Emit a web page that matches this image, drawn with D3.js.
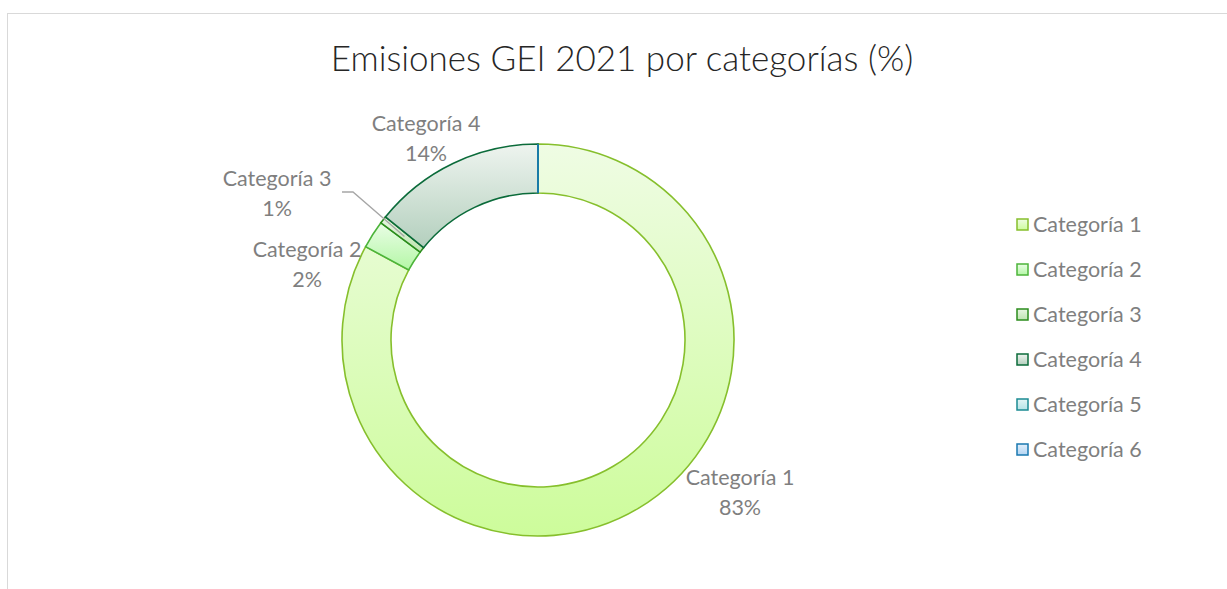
<!DOCTYPE html>
<html>
<head>
<meta charset="utf-8">
<script src="https://cdn.jsdelivr.net/npm/d3@7"></script>
<style>
  body { margin: 0; background: #fff; }
  text { font-family: Lato, "Open Sans", sans-serif; }
</style>
</head>
<body>
<script>
// data
var categories = ["Categoría 1", "Categoría 2", "Categoría 3", "Categoría 4", "Categoría 5", "Categoría 6"]
var values = [82.9, 2.3, 0.6, 14.2, 0, 0]
var pctLabels = ["83%", "2%", "1%", "14%", "", ""]

// colours: [top of gradient, bottom of gradient, outline]
var colors = [
  ["#effce4", "#cdfc9b", "#86bf2c"],
  ["#eafde6", "#b4f7a6", "#4cb43a"],
  ["#e8f6e2", "#bde4b0", "#2b8c1c"],
  ["#eef4ef", "#b3cfbd", "#0b6b3a"],
  ["#e4f5f6", "#b4e3e6", "#1b8a92"],
  ["#e2effb", "#b3d5f3", "#1a78b0"]
]

// where the outside labels sit, relative to the donut centre
var labelPos = [[202, 145], [-231, -83], [-261, -154], [-112, -209]]

var screen = {width: 1227, height: 589}
var center = {x: 538, y: 340}
var outerR = 196, innerR = 147

var svg = d3.select("body")
  .append("svg")
  .attr("width", screen.width)
  .attr("height", screen.height)

// chart frame
svg.append("rect")
  .attr("x", 7.5).attr("y", 13.5)
  .attr("width", 1240).attr("height", 600)
  .attr("fill", "#fff")
  .attr("stroke", "#d9d9d9")

svg.append("text")
  .attr("x", 622).attr("y", 71)
  .attr("text-anchor", "middle")
  .style("font-size", "35px")
  .style("font-weight", 300)
  .attr("fill", "#262626")
  .text("Emisiones GEI 2021 por categorías (%)")

var defs = svg.append("defs")
colors.forEach(function(c, i) {
  var g = defs.append("linearGradient")
    .attr("id", "grad" + i)
    .attr("x1", 0).attr("y1", 0).attr("x2", 0).attr("y2", 1)
  g.append("stop").attr("offset", "0%").attr("stop-color", c[0])
  g.append("stop").attr("offset", "100%").attr("stop-color", c[1])
})

var pie = d3.pie().sort(null).value(function(d) { return d })
var arc = d3.arc().innerRadius(innerR).outerRadius(outerR)
var arcs = pie(values)

var chart = svg.append("g")
  .attr("transform", "translate(" + center.x + "," + center.y + ")")

chart.selectAll("path")
  .data(arcs)
  .enter()
  .append("path")
  .attr("d", arc)
  .attr("fill", function(d, i) { return "url(#grad" + i + ")" })
  .attr("stroke", function(d, i) { return colors[i][2] })
  .attr("stroke-width", 1.6)
  .attr("stroke-linejoin", "miter")

// leader line for the small slice
var small = arcs[2]
var mid = (small.startAngle + small.endAngle) / 2
var rIn = innerR + 22
var lp = labelPos[2]
chart.append("polyline")
  .attr("points", [
      [lp[0] + 65, lp[1] + 6],
      [lp[0] + 76, lp[1] + 6],
      [Math.sin(mid) * rIn, -Math.cos(mid) * rIn]
    ].map(function(p) { return p.join(",") }).join(" "))
  .attr("fill", "none")
  .attr("stroke", "#a6a6a6")
  .attr("stroke-width", 1.3)

var labels = chart.selectAll(".lab")
  .data(arcs.filter(function(d) { return d.value > 0 }))
  .enter()
  .append("text")
  .attr("class", "lab")
  .attr("text-anchor", "middle")
  .attr("fill", "#7f7f7f")
  .style("font-size", "21.5px")
  .attr("transform", function(d) {
    var p = labelPos[d.index]
    return "translate(" + p[0] + "," + p[1] + ")"
  })
labels.append("tspan").attr("x", 0).attr("dy", 0)
  .text(function(d) { return categories[d.index] })
labels.append("tspan").attr("x", 0).attr("dy", 30)
  .text(function(d) { return pctLabels[d.index] })

// legend
var leg = svg.append("g")
  .selectAll("g")
  .data(categories)
  .enter()
  .append("g")
  .attr("transform", function(d, i) { return "translate(1017," + (219 + i * 45) + ")" })

leg.append("rect")
  .attr("width", 11).attr("height", 11)
  .attr("fill", function(d, i) { return "url(#grad" + i + ")" })
  .attr("stroke", function(d, i) { return colors[i][2] })
  .attr("stroke-width", 1.5)

leg.append("text")
  .attr("x", 16).attr("y", 13)
  .attr("fill", "#7f7f7f")
  .style("font-size", "21.5px")
  .text(function(d) { return d })
</script>
</body>
</html>
